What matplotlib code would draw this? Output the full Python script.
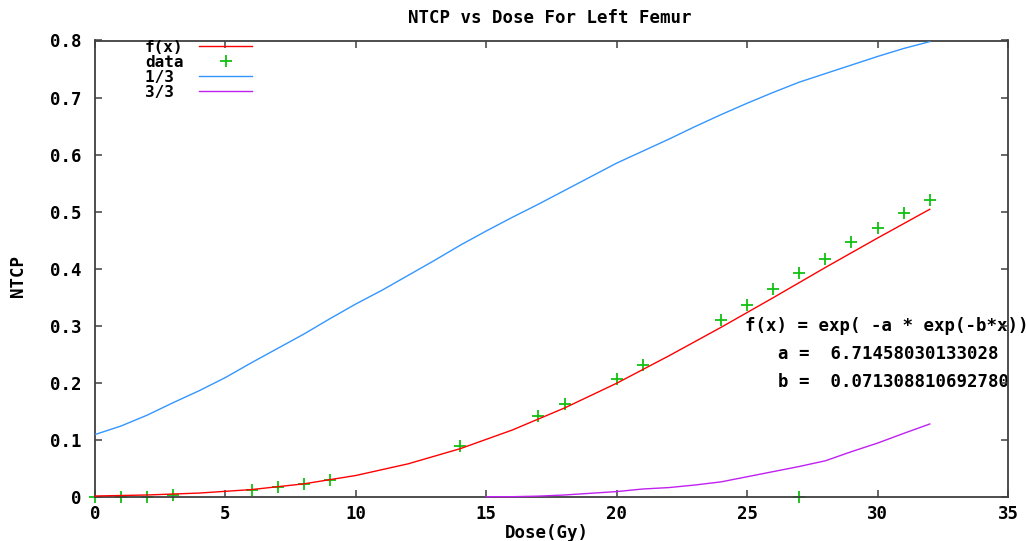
import matplotlib
matplotlib.use("Agg")
import matplotlib.pyplot as plt

# ---- data ----
fit_x = [0, 2, 4, 6, 8, 10, 12, 14, 16, 18, 20, 22, 24, 26, 28, 30, 32]
fit_y = [0.0012, 0.003, 0.0064, 0.0125, 0.0225, 0.0372, 0.0576, 0.0842,
         0.117, 0.1556, 0.199, 0.247, 0.297, 0.349, 0.402, 0.4536, 0.504]

data_x = [0, 1, 2, 3, 6, 7, 8, 9, 14, 17, 18, 20, 21, 24, 25, 26, 27, 28, 29, 30, 31, 32, 27]
data_y = [0.0, 0.0, 0.0, 0.003, 0.012, 0.0175, 0.022, 0.029, 0.089, 0.141, 0.162,
          0.207, 0.231, 0.309, 0.337, 0.364, 0.392, 0.417, 0.446, 0.471, 0.497, 0.521, 0.0]

third_x = list(range(0, 33))
third_y = [0.109, 0.124, 0.143, 0.165, 0.186, 0.209, 0.235, 0.260, 0.285, 0.312,
           0.338, 0.362, 0.388, 0.414, 0.441, 0.466, 0.490, 0.513, 0.537, 0.561,
           0.585, 0.606, 0.627, 0.649, 0.670, 0.690, 0.709, 0.727, 0.742, 0.757,
           0.772, 0.786, 0.798]

full_x = [15, 16, 17, 18, 19, 20, 21, 22, 23, 24, 25, 26, 27, 28, 29, 30, 31, 32]
full_y = [0.0, 0.0, 0.001, 0.003, 0.006, 0.009, 0.0135, 0.016, 0.0205, 0.026,
          0.035, 0.044, 0.053, 0.063, 0.079, 0.094, 0.111, 0.1275]

x_ticks = [0, 5, 10, 15, 20, 25, 30, 35]
y_ticks = [0, 0.1, 0.2, 0.3, 0.4, 0.5, 0.6, 0.7, 0.8]
y_tick_labels = ["0", "0.1", "0.2", "0.3", "0.4", "0.5", "0.6", "0.7", "0.8"]

title = "NTCP vs Dose For Left Femur"
xlabel = "Dose(Gy)"
ylabel = "NTCP"
fit_text = "f(x) = exp( -a * exp(-b*x))"
a_text = "a =  6.71458030133028"
b_text = "b =  0.071308810692780"

# ---- style ----
FONT = "DejaVu Sans Mono"
FS = 12.5
plt.rcParams["font.family"] = [FONT]
plt.rcParams["font.weight"] = "bold"

W, H = 1026, 541
fig = plt.figure(figsize=(W / 100, H / 100), dpi=100)
L, R, B, T = 95, 1008, 496.7, 40.5
ax = fig.add_axes([L / W, 1 - B / H, (R - L) / W, (B - T) / H])

ax.plot(fit_x, fit_y, color="#ff0000", lw=1.0, label="f(x)", zorder=3, clip_on=False)
ax.plot(data_x, data_y, ls="none", marker="+", ms=8, mew=1.3, color="#11c011",
        label="data", zorder=2, clip_on=False)
ax.plot(third_x, third_y, color="#3396ff", lw=1.0, label="1/3 ", zorder=3)
ax.plot(full_x, full_y, color="#c020f0", lw=1.0, label="3/3 ", zorder=3, clip_on=False)

ax.set_xlim(0, 35)
ax.set_ylim(0, 0.8)
ax.set_xticks(x_ticks)
ax.set_xticklabels([str(v) for v in x_ticks])
ax.set_yticks(y_ticks)
ax.set_yticklabels(y_tick_labels)

for s in ax.spines.values():
    s.set_color("#404040")
    s.set_linewidth(1.3)

ax.tick_params(direction="in", length=5, width=1.1, color="#404040",
               top=True, right=True, labelsize=FS)
ax.tick_params(axis="y", pad=10)
ax.tick_params(axis="x", pad=6)

ax.set_xlabel(xlabel, fontsize=FS, fontweight="bold")
ax.xaxis.set_label_coords((547 - L) / (R - L), -(524 - B) / (B - T))
ax.set_ylabel(ylabel, fontsize=FS, fontweight="bold")
ax.yaxis.label.set_va("center")
ax.yaxis.set_label_coords(-(L - 18) / (R - L), (B - 276) / (B - T))

fig.text(549.5 / W, 1 - 18 / H, title, ha="center", va="center",
         fontsize=FS, fontweight="bold")

# annotation texts (spine drawn over them)
ax.text((745 - L) / (R - L), (B - 326) / (B - T), fit_text, transform=ax.transAxes,
        ha="left", va="center", fontsize=FS, fontweight="bold", zorder=1, clip_on=False)
ax.text((778 - L) / (R - L), (B - 354) / (B - T), a_text, transform=ax.transAxes,
        ha="left", va="center", fontsize=FS, fontweight="bold", zorder=1, clip_on=False)
ax.text((778 - L) / (R - L), (B - 382) / (B - T), b_text, transform=ax.transAxes,
        ha="left", va="center", fontsize=FS, fontweight="bold", zorder=1, clip_on=False)

leg_fs = 11.5
leg = ax.legend(loc="upper left", bbox_to_anchor=((145 - L) / (R - L), 1 + 0.5 / (B - T)),
                frameon=False, markerfirst=False, prop={"family": FONT, "weight": "bold", "size": leg_fs},
                handlelength=53 / (leg_fs * 100 / 72), handletextpad=1.0,
                labelspacing=0.0, borderpad=0, borderaxespad=0)

fig.savefig("out.png", dpi=100)
